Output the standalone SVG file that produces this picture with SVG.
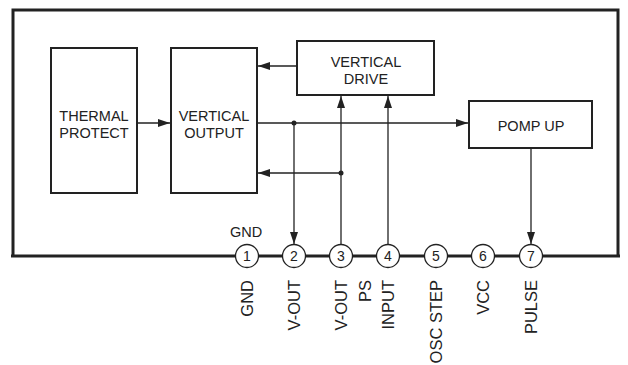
<svg xmlns="http://www.w3.org/2000/svg" width="628" height="365" viewBox="0 0 628 365">
<style>
.box{fill:#fff;stroke:#222;stroke-width:2}
.frame{fill:none;stroke:#222;stroke-width:3}
.wire{fill:none;stroke:#222;stroke-width:1.3}
.pin{fill:#fff;stroke:#222;stroke-width:1.3}
.t{font-family:"Liberation Sans",Arial,sans-serif;font-size:14.5px;fill:#222;text-anchor:middle}
.pt{font-family:"Liberation Sans",Arial,sans-serif;font-size:14px;fill:#222;text-anchor:middle}
.lbl{font-family:"Liberation Sans",Arial,sans-serif;font-size:16.5px;fill:#222;text-anchor:end}
</style>
<defs>
<marker id="ah" viewBox="0 0 12 8" refX="12" refY="4" markerWidth="12" markerHeight="8" markerUnits="userSpaceOnUse" orient="auto">
<path d="M0,0 L12,4 L0,8 Z" fill="#222"/>
</marker>
</defs>
<rect width="628" height="365" fill="#fff"/>
<path class="frame" d="M13,256 L13,10 L618,10 L618,256"/>
<line x1="11" y1="256" x2="620" y2="256" stroke="#222" stroke-width="3"/>
<g id="thermal">
<rect class="box" x="51" y="48" width="86" height="145"/>
<text class="t" x="94" y="121">THERMAL</text>
<text class="t" x="94" y="138">PROTECT</text>
</g>
<g id="vout">
<rect class="box" x="171" y="48" width="86" height="145"/>
<text class="t" x="214" y="121">VERTICAL</text>
<text class="t" x="214" y="138">OUTPUT</text>
</g>
<g id="vdrive">
<rect class="box" x="297" y="41" width="137" height="54"/>
<text class="t" x="366" y="67">VERTICAL</text>
<text class="t" x="366" y="84">DRIVE</text>
</g>
<g id="pomp">
<rect class="box" x="469" y="101" width="123" height="47"/>
<text class="t" x="531" y="131">POMP UP</text>
</g>
<g id="connectors">
<line class="wire" x1="297" y1="66" x2="258" y2="66" marker-end="url(#ah)"/>
<line class="wire" x1="137" y1="123" x2="170" y2="123" marker-end="url(#ah)"/>
<line class="wire" x1="257" y1="123" x2="468" y2="123" marker-end="url(#ah)"/>
<line class="wire" x1="294" y1="123" x2="294" y2="244" marker-end="url(#ah)"/>
<circle cx="294" cy="123" r="2.5" fill="#222"/>
<line class="wire" x1="341" y1="173" x2="258" y2="173" marker-end="url(#ah)"/>
<circle cx="341" cy="173" r="2.5" fill="#222"/>
<line class="wire" x1="341" y1="245" x2="341" y2="96" marker-end="url(#ah)"/>
<line class="wire" x1="388" y1="245" x2="388" y2="96" marker-end="url(#ah)"/>
<line class="wire" x1="531" y1="148" x2="531" y2="244" marker-end="url(#ah)"/>
</g>
<g id="pins">
<g id="pin1"><circle class="pin" cx="247" cy="256" r="11.5"/><text class="pt" x="247" y="261">1</text></g>
<g id="pin2"><circle class="pin" cx="294" cy="256" r="11.5"/><text class="pt" x="294" y="261">2</text></g>
<g id="pin3"><circle class="pin" cx="341" cy="256" r="11.5"/><text class="pt" x="341" y="261">3</text></g>
<g id="pin4"><circle class="pin" cx="388" cy="256" r="11.5"/><text class="pt" x="388" y="261">4</text></g>
<g id="pin5"><circle class="pin" cx="436" cy="256" r="11.5"/><text class="pt" x="436" y="261">5</text></g>
<g id="pin6"><circle class="pin" cx="483" cy="256" r="11.5"/><text class="pt" x="483" y="261">6</text></g>
<g id="pin7"><circle class="pin" cx="531" cy="256" r="11.5"/><text class="pt" x="531" y="261">7</text></g>
</g>
<text class="t" x="246" y="237">GND</text>
<g id="labels">
<text class="lbl" transform="translate(253,280) rotate(-90)">GND</text>
<text class="lbl" transform="translate(300,280) rotate(-90)">V-OUT</text>
<text class="lbl" transform="translate(347,280) rotate(-90)">V-OUT</text>
<text class="lbl" transform="translate(371,280) rotate(-90)">PS</text>
<text class="lbl" transform="translate(394,280) rotate(-90)">INPUT</text>
<text class="lbl" transform="translate(442,280) rotate(-90)">OSC STEP</text>
<text class="lbl" transform="translate(489,280) rotate(-90)">VCC</text>
<text class="lbl" transform="translate(537,280) rotate(-90)">PULSE</text>
</g>
</svg>
